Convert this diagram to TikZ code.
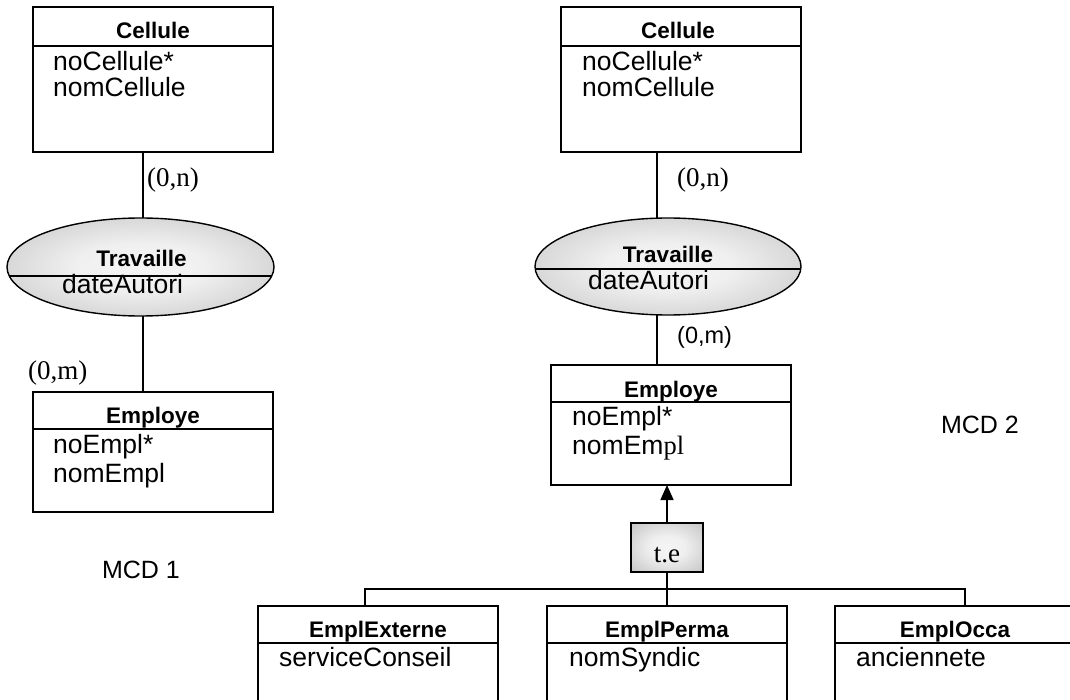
\documentclass[tikz,border=0pt]{standalone}
\usepackage{fontspec}
\newfontfamily\sansf{Liberation Sans}
\newfontfamily\seriff{Liberation Serif}
\usetikzlibrary{shapes.geometric,arrows.meta,calc}
% soft grey fill: light in the middle, darker towards the outline
\pgfdeclareradialshading{softgray}{\pgfpoint{0bp}{0bp}}{color(0bp)=(gray!8); color(12bp)=(gray!12); color(50bp)=(gray!66)}
\begin{document}
\begin{tikzpicture}[x=1pt,y=-1pt,
  entity/.style={draw, line width=1.8pt, minimum width=240pt, inner sep=0pt, outer sep=0pt, anchor=north west},
  rel/.style={ellipse, draw, line width=1.4pt, shading=softgray, inner sep=0pt, outer sep=0pt},
  gen/.style={rectangle, draw, line width=1.8pt, shading=softgray, inner sep=0pt, outer sep=0pt, minimum width=72pt, minimum height=49pt},
  sep/.style={line width=1.4pt},
  conn/.style={line width=1.5pt},
  title/.style={anchor=base, inner sep=0pt, font=\sansf\bfseries\fontsize{22.5}{27}\selectfont},
  attr/.style={anchor=base west, inner sep=0pt, font=\sansf\fontsize{26.5}{31}\selectfont},
  card/.style={anchor=west, inner sep=0pt, font=\seriff\fontsize{27}{31}\selectfont},
  cards/.style={anchor=west, inner sep=0pt, font=\sansf\fontsize{23.5}{28}\selectfont},
  caption/.style={anchor=base, inner sep=0pt, font=\sansf\fontsize{25}{30}\selectfont}]
\useasboundingbox (0,0) rectangle (1070,700);
\clip (0,0) rectangle (1070,700);

% ---------------- MCD 1 ----------------
\node[entity, minimum height=145pt] (cel1) at (33,7) {};
\draw[sep] ($(cel1.north west)+(0,39)$) -- ($(cel1.north east)+(0,39)$);
\node[title] (cel1t) at ($(cel1.north)+(0,32)$) {Cellule};
\node[attr] (cel1a) at ($(cel1.north west)+(20,64)$) {noCellule*};
\node[attr] (cel1b) at ($(cel1.north west)+(20,90)$) {nomCellule};

\node[rel, minimum width=267pt, minimum height=98pt] (rel1) at (140.5,267) {};
\draw[sep] ($(rel1.center)+(-131.2,9)$) -- ($(rel1.center)+(131.2,9)$);
\node[title] (rel1t) at ($(rel1.center)+(1,0)$) {Travaille};
\node[attr] (rel1a) at ($(rel1.center)+(-78.5,27)$) {dateAutori};

\node[entity, minimum height=120pt] (emp1) at (33,392) {};
\draw[sep] ($(emp1.north west)+(0,37)$) -- ($(emp1.north east)+(0,37)$);
\node[title] (emp1t) at ($(emp1.north)+(0,31)$) {Employe};
\node[attr] (emp1a) at ($(emp1.north west)+(20,61)$) {noEmpl*};
\node[attr] (emp1b) at ($(emp1.north west)+(20,90)$) {nomEmpl};

\coordinate (v1) at (143,0);
\draw[conn] (cel1.south -| v1) -- (rel1.north -| v1);
\draw[conn] (rel1.south -| v1) -- (emp1.north -| v1);
\node[card] (c1n) at (147,180) {(0,n)};
\node[card] (c1m) at (28,373) {(0,m)};

\node[caption] (mcd1) at (141,578) {MCD 1};

% ---------------- MCD 2 ----------------
\node[entity, minimum height=145pt] (cel2) at (561,7) {};
\draw[sep] ($(cel2.north west)+(0,39)$) -- ($(cel2.north east)+(0,39)$);
\node[title] (cel2t) at ($(cel2.north)+(-3,32)$) {Cellule};
\node[attr] (cel2a) at ($(cel2.north west)+(21,64)$) {noCellule*};
\node[attr] (cel2b) at ($(cel2.north west)+(21,90)$) {nomCellule};

\node[rel, minimum width=266pt, minimum height=97pt] (rel2) at (668,266.5) {};
\draw[sep] ($(rel2.center)+(-132.8,2.5)$) -- ($(rel2.center)+(132.8,2.5)$);
\node[title] (rel2t) at ($(rel2.center)+(0,-3.5)$) {Travaille};
\node[attr] (rel2a) at ($(rel2.center)+(-80,23.5)$) {dateAutori};

\node[entity, minimum height=120pt] (emp2) at (551,365) {};
\draw[sep] ($(emp2.north west)+(0,37)$) -- ($(emp2.north east)+(0,37)$);
\node[title] (emp2t) at ($(emp2.north)+(0,32)$) {Employe};
\node[attr] (emp2a) at ($(emp2.north west)+(21,60)$) {noEmpl*};
\node[attr] (emp2b) at ($(emp2.north west)+(21,89)$) {nomEm{\seriff pl}};

\coordinate (v2) at (657,0);
\draw[conn] (cel2.south -| v2) -- (rel2.north -| v2);
\draw[conn] (rel2.south -| v2) -- (emp2.north -| v2);
\node[card] (c2n) at (677,180) {(0,n)};
\node[cards] (c2m) at (677,337) {(0,m)};

\node[caption] (mcd2) at (980,433) {MCD 2};

% specialisation (total, exclusive)
\node[gen] (te) at (667,547.5) {};
\node[anchor=base, inner sep=0pt, font=\seriff\fontsize{27}{31}\selectfont] (tet) at (667,562) {t.e};
\draw[conn, -{Triangle[width=13pt,length=15pt]}] (te.north) -- (te.north |- emp2.south);

\node[entity, minimum height=120pt] (ext) at (258,606) {};
\draw[sep] ($(ext.north west)+(0,37)$) -- ($(ext.north east)+(0,37)$);
\node[title] (extt) at ($(ext.north)+(0,31)$) {EmplExterne};
\node[attr] (exta) at ($(ext.north west)+(21,60)$) {serviceConseil};

\node[entity, minimum height=120pt] (per) at (547,606) {};
\draw[sep] ($(per.north west)+(0,37)$) -- ($(per.north east)+(0,37)$);
\node[title] (pert) at ($(per.north)+(0,31)$) {EmplPerma};
\node[attr] (pera) at ($(per.north west)+(22,60)$) {nomSyndic};

\node[entity, minimum height=120pt] (occ) at (835,606) {};
\draw[sep] ($(occ.north west)+(0,37)$) -- ($(occ.north east)+(0,37)$);
\node[title] (occt) at ($(occ.north)+(0,31)$) {EmplOcca};
\node[attr] (occa) at ($(occ.north west)+(21,60)$) {anciennete};

\coordinate (busL) at (365,589);
\coordinate (busR) at (965,589);
\draw[conn] (te.south) -- (per.north);
\draw[conn] (ext.north -| busL) -- (busL) -- (busR) -- (occ.north -| busR);
\end{tikzpicture}
\end{document}
